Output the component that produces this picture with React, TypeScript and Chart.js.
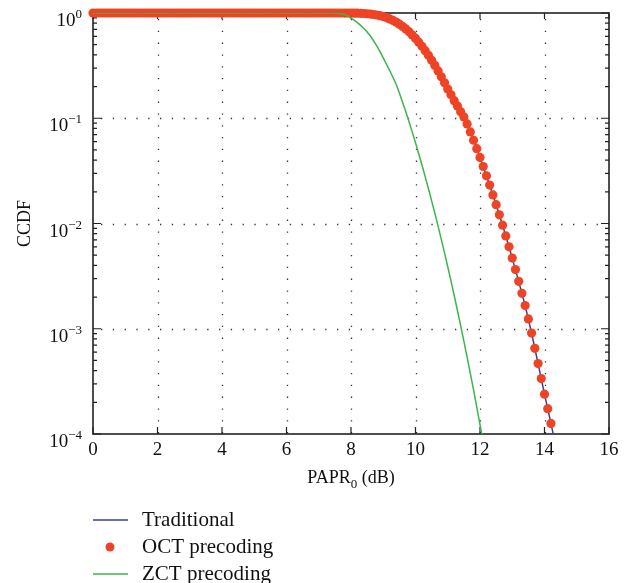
import { useEffect, useRef } from 'react';
import { Chart, registerables } from 'chart.js';

Chart.register(...registerables);

const FONT = '"Liberation Serif", "DejaVu Serif", serif';
const BLUE = '#3b3b9c';
const RED = '#ef4325';
const GREEN = '#3cb54a';

// tick values
const xTickValues = [0, 2, 4, 6, 8, 10, 12, 14, 16];
const yTickExponents = [0, -1, -2, -3, -4];

// OCT precoding markers (PAPR0 in dB, CCDF)
const octX = [
  0, 0.1, 0.2, 0.3, 0.4, 0.5, 0.6, 0.7, 0.8, 0.9,
  1, 1.1, 1.2, 1.3, 1.4, 1.5, 1.6, 1.7, 1.8, 1.9,
  2, 2.1, 2.2, 2.3, 2.4, 2.5, 2.6, 2.7, 2.8, 2.9,
  3, 3.1, 3.2, 3.3, 3.4, 3.5, 3.6, 3.7, 3.8, 3.9,
  4, 4.1, 4.2, 4.3, 4.4, 4.5, 4.6, 4.7, 4.8, 4.9,
  5, 5.1, 5.2, 5.3, 5.4, 5.5, 5.6, 5.7, 5.8, 5.9,
  6, 6.1, 6.2, 6.3, 6.4, 6.5, 6.6, 6.7, 6.8, 6.9,
  7, 7.1, 7.2, 7.3, 7.4, 7.5, 7.6, 7.7, 7.8, 7.9,
  8, 8.1, 8.2, 8.3, 8.4, 8.5, 8.6, 8.7, 8.8, 8.9,
  9, 9.1, 9.2, 9.3, 9.4, 9.5, 9.6, 9.7, 9.8, 9.9,
  10, 10.1, 10.2, 10.3, 10.4, 10.5, 10.6, 10.7, 10.8, 10.9,
  11, 11.1, 11.2, 11.3, 11.4, 11.5, 11.6, 11.7, 11.8, 11.9,
  12, 12.1, 12.2, 12.3, 12.4, 12.5, 12.6, 12.7, 12.8, 12.9,
  13, 13.1, 13.2, 13.3, 13.4, 13.5, 13.6, 13.7, 13.8, 13.9,
  14, 14.1, 14.2,
];
const octY = [
  1, 1, 1, 1, 1, 1, 1, 1, 1, 1,
  1, 1, 1, 1, 1, 1, 1, 1, 1, 1,
  1, 1, 1, 1, 1, 1, 1, 1, 1, 1,
  1, 1, 1, 1, 1, 1, 1, 1, 1, 1,
  1, 1, 1, 1, 1, 1, 1, 1, 1, 1,
  1, 1, 1, 1, 1, 1, 1, 1, 1, 1,
  1, 1, 1, 1, 1, 1, 1, 1, 1, 1,
  1, 1, 1, 1, 1, 0.9999, 0.9998, 0.9996, 0.9992, 0.9985,
  0.998, 0.9969, 0.9952, 0.9926, 0.989, 0.9839, 0.9771, 0.9682, 0.9568, 0.9424,
  0.9248, 0.9039, 0.8793, 0.8509, 0.8192, 0.7839, 0.7459, 0.7051, 0.6622, 0.6181,
  0.573, 0.5277, 0.483, 0.4389, 0.3965, 0.3558, 0.3174, 0.2815, 0.2479, 0.2172,
  0.1893, 0.167, 0.147, 0.1305, 0.1155, 0.103, 0.0884, 0.0742, 0.0618, 0.0514,
  0.0424, 0.0348, 0.0284, 0.0232, 0.0187, 0.0151, 0.0121, 0.00965, 0.00762, 0.006,
  0.00469, 0.00365, 0.00282, 0.00217, 0.00166, 0.00124, 0.000909, 0.000651, 0.000467, 0.000336,
  0.000239, 0.000174, 0.000126,
];

// Traditional curve
const tradX = [
  0, 2, 4, 6, 7, 7.5, 7.8, 8, 8.2, 8.4, 8.6, 8.8, 9, 9.2, 9.4, 9.6, 9.8,
  10, 10.2, 10.4, 10.6, 10.8, 11, 11.2, 11.4, 11.6, 11.8,
  12, 12.2, 12.4, 12.6, 12.8, 13, 13.2, 13.4, 13.6, 13.8, 14, 14.2, 14.3,
];
const tradY = [
  1, 1, 1, 1, 1, 0.9999, 0.9992, 0.998, 0.9952, 0.989, 0.9771, 0.9568, 0.9248, 0.8793, 0.8192, 0.7459, 0.6622,
  0.573, 0.483, 0.3965, 0.3174, 0.2479, 0.1893, 0.147, 0.1155, 0.0884, 0.0618,
  0.0424, 0.0284, 0.0187, 0.0121, 0.00762, 0.00469, 0.00282, 0.00166, 0.000909, 0.000467, 0.000239, 0.000126, 0.0000905,
];

// ZCT precoding curve
const zctX = [
  0, 2, 4, 6, 7, 7.1, 7.2, 7.3, 7.4, 7.5, 7.6, 7.7, 7.8, 7.9,
  8, 8.1, 8.2, 8.3, 8.4, 8.5, 8.6, 8.7, 8.8, 8.9,
  9, 9.1, 9.2, 9.3, 9.4, 9.5, 9.6, 9.7, 9.8, 9.9,
  10, 10.1, 10.2, 10.3, 10.4, 10.5, 10.6, 10.7, 10.8, 10.9,
  11, 11.1, 11.2, 11.3, 11.4, 11.5, 11.6, 11.7, 11.8, 11.9,
  12, 12.1,
];
const zctY = [
  1, 1, 1, 1, 1, 0.9999, 0.9997, 0.9993, 0.9985, 0.997, 0.993, 0.985, 0.968, 0.94,
  0.893, 0.855, 0.81, 0.762, 0.712, 0.66, 0.605, 0.545, 0.487, 0.43,
  0.375, 0.326, 0.284, 0.245, 0.2105, 0.1735, 0.1419, 0.115, 0.0925, 0.0738,
  0.0585, 0.046, 0.036, 0.0279, 0.0215, 0.0164, 0.0125, 0.00945, 0.00707, 0.00526,
  0.00388, 0.00285, 0.00207, 0.00149, 0.00107, 0.000763, 0.000538, 0.000377, 0.000262, 0.00018,
  0.000123, 0.0000831,
];

const toPoints = (xs: number[], ys: number[]) => xs.map((x, i) => ({ x, y: ys[i] }));

const framePlugin = {
  id: 'frame',
  beforeDatasetsDraw(chart: any) {
    const { ctx, chartArea: a, scales } = chart;
    const xs = scales.x;
    const ys = scales.y;
    ctx.save();
    // dotted grid
    ctx.strokeStyle = '#333';
    ctx.lineWidth = 1.3;
    ctx.setLineDash([1.3, 10.5]);
    xTickValues.slice(1, -1).forEach((v) => {
      const px = Math.round(xs.getPixelForValue(v)) + 0.5;
      ctx.beginPath();
      ctx.moveTo(px, a.top + 6);
      ctx.lineTo(px, a.bottom);
      ctx.stroke();
    });
    yTickExponents.slice(1, -1).forEach((e) => {
      const py = Math.round(ys.getPixelForValue(Math.pow(10, e))) + 0.5;
      ctx.beginPath();
      ctx.moveTo(a.left + 8, py);
      ctx.lineTo(a.right, py);
      ctx.stroke();
    });
    ctx.setLineDash([]);
    // box
    ctx.strokeStyle = '#222';
    ctx.lineWidth = 1.6;
    ctx.strokeRect(a.left, a.top, a.right - a.left, a.bottom - a.top);
    // ticks
    ctx.lineWidth = 1.2;
    xTickValues.forEach((v) => {
      const px = xs.getPixelForValue(v);
      ctx.beginPath();
      ctx.moveTo(px, a.bottom);
      ctx.lineTo(px, a.bottom - 7);
      ctx.moveTo(px, a.top);
      ctx.lineTo(px, a.top + 6);
      ctx.stroke();
    });
    yTickExponents.forEach((e) => {
      const py = ys.getPixelForValue(Math.pow(10, e));
      ctx.beginPath();
      ctx.moveTo(a.left, py);
      ctx.lineTo(a.left + 8, py);
      ctx.moveTo(a.right, py);
      ctx.lineTo(a.right - 8, py);
      ctx.stroke();
      if (e > yTickExponents[yTickExponents.length - 1]) {
        for (let m = 2; m <= 9; m++) {
          const my = ys.getPixelForValue(m * Math.pow(10, e - 1));
          ctx.beginPath();
          ctx.moveTo(a.left, my);
          ctx.lineTo(a.left + 4, my);
          ctx.moveTo(a.right, my);
          ctx.lineTo(a.right - 4, my);
          ctx.stroke();
        }
      }
    });
    ctx.restore();
  },
  afterDraw(chart: any) {
    const { ctx, chartArea: a, scales } = chart;
    const xs = scales.x;
    const ys = scales.y;
    ctx.save();
    ctx.fillStyle = '#111';
    // x tick labels
    ctx.font = `19px ${FONT}`;
    ctx.textAlign = 'center';
    ctx.textBaseline = 'alphabetic';
    xTickValues.forEach((v) => {
      ctx.fillText(String(v), xs.getPixelForValue(v), a.bottom + 21);
    });
    // y tick labels 10^e
    yTickExponents.forEach((e) => {
      const py = ys.getPixelForValue(Math.pow(10, e));
      const sup = e === 0 ? '0' : '\u2212' + String(-e);
      ctx.font = `13px ${FONT}`;
      const sw = ctx.measureText(sup).width;
      ctx.textAlign = 'right';
      const right = a.left - 11;
      ctx.fillText(sup, right, py + 5);
      ctx.font = `19px ${FONT}`;
      ctx.fillText('10', right - sw, py + 13);
    });
    // axis titles
    ctx.font = `18px ${FONT}`;
    ctx.save();
    ctx.translate(a.left - 63, (a.top + a.bottom) / 2);
    ctx.rotate(-Math.PI / 2);
    ctx.textAlign = 'center';
    ctx.fillText('CCDF', 0, 0);
    ctx.restore();
    // PAPR0 (dB)
    const t1 = 'PAPR';
    const t2 = '0';
    const t3 = ' (dB)';
    ctx.font = `18px ${FONT}`;
    const w1 = ctx.measureText(t1).width;
    const w3 = ctx.measureText(t3).width;
    ctx.font = `13px ${FONT}`;
    const w2 = ctx.measureText(t2).width;
    const total = w1 + w2 + w3;
    const cx = (a.left + a.right) / 2;
    let sx = cx - total / 2;
    const by = a.bottom + 49;
    ctx.textAlign = 'left';
    ctx.font = `18px ${FONT}`;
    ctx.fillText(t1, sx, by);
    sx += w1;
    ctx.font = `13px ${FONT}`;
    ctx.fillText(t2, sx, by + 5);
    sx += w2;
    ctx.font = `18px ${FONT}`;
    ctx.fillText(t3, sx, by);

    // legend
    const ds = chart.data.datasets;
    const rows = [
      { label: ds[0].label, kind: 'line', color: BLUE, y: 520 },
      { label: ds[1].label, kind: 'dot', color: RED, y: 547 },
      { label: ds[2].label, kind: 'line', color: GREEN, y: 574 },
    ];
    ctx.font = `21px ${FONT}`;
    rows.forEach((r) => {
      if (r.kind === 'line') {
        ctx.strokeStyle = r.color;
        ctx.lineWidth = 1.5;
        ctx.beginPath();
        ctx.moveTo(93, r.y);
        ctx.lineTo(128, r.y);
        ctx.stroke();
      } else {
        ctx.fillStyle = r.color;
        ctx.beginPath();
        ctx.arc(110, r.y, 4.5, 0, Math.PI * 2);
        ctx.fill();
      }
      ctx.fillStyle = '#111';
      ctx.textAlign = 'left';
      ctx.fillText(r.label, 142, r.y + 6);
    });
    ctx.restore();
  },
};

export default function App() {
  const ref = useRef<HTMLCanvasElement>(null);
  useEffect(() => {
    if (!ref.current) return;
    const chart = new Chart(ref.current, {
      type: 'line',
      data: {
        datasets: [
          {
            label: 'Traditional',
            data: toPoints(tradX, tradY),
            borderColor: BLUE,
            backgroundColor: BLUE,
            borderWidth: 1.5,
            pointRadius: 0,
            tension: 0,
            order: 3,
          },
          {
            label: 'OCT precoding',
            data: toPoints(octX, octY),
            showLine: false,
            pointRadius: 4.6,
            pointBorderWidth: 0,
            pointBackgroundColor: RED,
            borderColor: RED,
            backgroundColor: RED,
            clip: false,
            order: 2,
          },
          {
            label: 'ZCT precoding',
            data: toPoints(zctX, zctY),
            borderColor: GREEN,
            backgroundColor: GREEN,
            borderWidth: 1.5,
            pointRadius: 0,
            tension: 0,
            order: 1,
          },
        ],
      } as any,
      options: {
        animation: false,
        responsive: false,
        layout: { padding: { left: 93, right: 31, top: 13, bottom: 149 } },
        plugins: { legend: { display: false }, tooltip: { enabled: false } },
        scales: {
          x: { type: 'linear', min: 0, max: 16, display: false },
          y: { type: 'logarithmic', min: 1e-4, max: 1, display: false },
        },
      },
      plugins: [framePlugin],
    });
    return () => chart.destroy();
  }, []);
  return (
    <div style={{ position: 'fixed', left: 0, top: 0, width: 640, height: 583, background: '#fff' }}>
      <canvas ref={ref} width={640} height={583} style={{ display: 'block' }} />
    </div>
  );
}
